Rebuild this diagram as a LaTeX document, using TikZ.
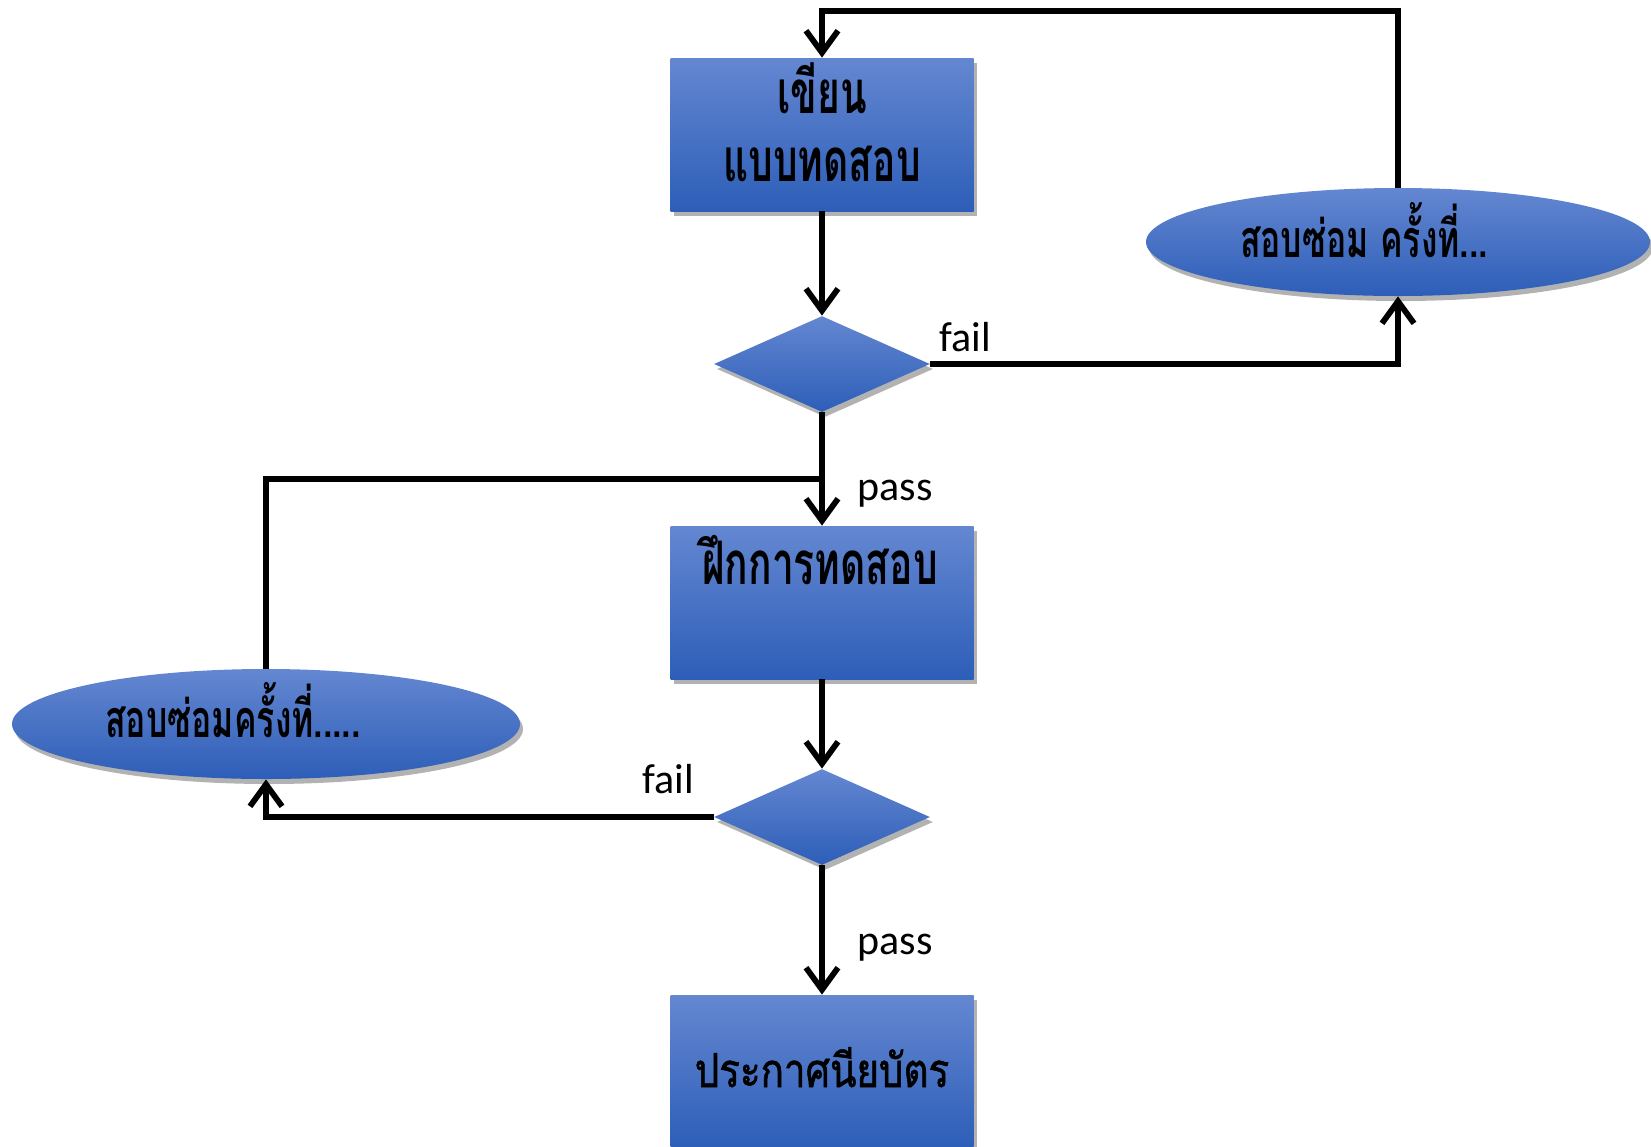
\documentclass[tikz,border=0pt]{standalone}
\usepackage{fontspec}
\setmainfont{Carlito}
\newfontfamily\thaib[Script=Thai,FakeStretch=0.65]{Loma}
\newfontfamily\thair[Script=Thai,FakeStretch=0.82,FakeBold=1.2]{Loma}
\usetikzlibrary{shapes.geometric,arrows.meta,shadows}
\definecolor{btop}{HTML}{6487D1}
\definecolor{bbot}{HTML}{2D5EB8}
\tikzset{
  bluefill/.style={top color=btop,bottom color=bbot,draw=none,
    drop shadow={shadow xshift=1.5pt,shadow yshift=-2.5pt,opacity=0.3,fill=black}},
  stepbox/.style={bluefill,rectangle,minimum width=151.5pt,minimum height=76.5pt,inner sep=0pt},
  oval/.style={bluefill,ellipse,inner sep=0pt},
  decide/.style={bluefill,diamond,minimum width=108pt,minimum height=48pt,inner sep=0pt,aspect=2.25},
  con/.style={line width=2.9pt},
  arr/.style={con,-{Straight Barb[length=11pt,width=16pt,line width=2.9pt]}},
  thtext/.style={font=\thaib\bfseries\fontsize{30}{34}\selectfont,anchor=base},
  ovtext/.style={font=\thaib\bfseries\fontsize{26}{30}\selectfont,anchor=base},
  lbl/.style={font=\fontsize{21}{24}\selectfont,anchor=base},
}
\begin{document}
\begin{tikzpicture}[x=0.5pt,y=-0.5pt]
\useasboundingbox (0,0) rectangle (1651,1147);
\begin{scope}
\clip (0,0) rectangle (1651,1147);
% shapes
\node[stepbox] (b1) at (822,134.5) {};
\node[stepbox] (b2) at (822,602.5) {};
\node[stepbox] (b3) at (822,1071.5) {};
\node[decide] (d1) at (822,364) {};
\node[decide] (d2) at (822,817) {};
\node[oval,minimum width=252pt,minimum height=54pt] (e1) at (1398,242) {};
\node[oval,minimum width=254pt,minimum height=55pt] (e2) at (266,724) {};
\end{scope}
% texts
\node[thtext] (t1a) at (822,113) {เขียน};
\node[thtext] (t1b) at (822,181) {แบบทดสอบ};
\node[thtext] (t2) at (820,584) {ฝึกการทดสอบ};
\node[font=\thair\fontsize{23.5}{28}\selectfont,anchor=base] (t3) at (822,1087) {ประกาศนียบัตร};
\node[ovtext] (te1) at (1364,257) {สอบซ่อม ครั้งที่...};
\node[ovtext] (te2) at (233,737) {สอบซ่อมครั้งที่.....};
\node[lbl] (f1) at (965,351) {fail};
\node[lbl] (p1) at (895,500) {pass};
\node[lbl] (f2) at (668,793) {fail};
\node[lbl] (p2) at (895,954) {pass};
% connectors
\coordinate (topy) at (0,11);
\coordinate (loopy) at (0,479);
\draw[arr] (b1.south) -- (d1.north);
\draw[arr] (d1.east) -| (e1.south);
\draw[arr,line join=miter] (e1.north) -- (e1.north |- topy) -- (b1.north |- topy) -- (b1.north);
\draw[arr] (d1.south) -- (b2.north);
\draw[con,line join=miter] (e2.north) -- (e2.north |- loopy) -- (b2.north |- loopy);
\draw[arr] (b2.south) -- (d2.north);
\draw[arr,line join=miter] (d2.west) -| (e2.south);
\draw[arr] (d2.south) -- (b3.north);
\end{tikzpicture}
\end{document}
